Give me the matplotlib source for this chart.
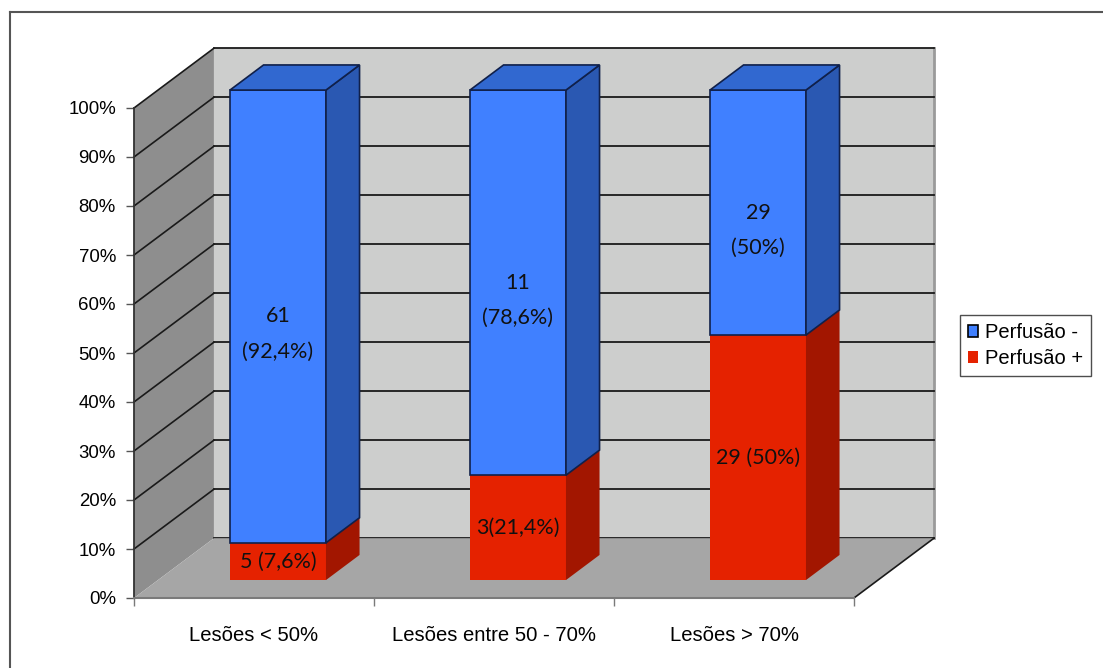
import matplotlib.pyplot as plt
from matplotlib.patches import Polygon, Patch
from matplotlib.lines import Line2D

# Perfusion results per lesion group (stacked to 100%)
categories = ['Lesões < 50%', 'Lesões entre 50 - 70%', 'Lesões > 70%']
pos_count = [5, 3, 29]
pos_pct = [7.6, 21.4, 50.0]
neg_count = [61, 11, 29]
neg_pct = [92.4, 78.6, 50.0]
pos_labels = ['5 (7,6%)', '3(21,4%)', '29 (50%)']
series_names = ['Perfusão -', 'Perfusão +']
yticks = list(range(0, 101, 10))

# pseudo-3D depth vector (data units) and bar layout
DX, DY = 0.333, 12.2
F0, F1 = 0.30, 0.72          # front / back of the bars as fraction of depth
BAR_W = 0.4

blue = dict(front='#4080ff', side='#2a58b2', top='#3168d0')
red = dict(front='#e52200', side='#a21600', top='#c81c00')

fig = plt.figure(figsize=(11.03, 6.68), dpi=100)
ax = fig.add_axes([134 / 1103, 70 / 668, 720 / 1103, 490 / 668])
ax.set_xlim(0, 3)
ax.set_ylim(0, 100)
ax.patch.set_visible(False)

ncat = len(categories)

# back wall
ax.add_patch(Polygon([(DX, DY), (ncat + DX, DY), (ncat + DX, 100 + DY), (DX, 100 + DY)],
                     closed=True, fc='#cdcecd', ec='none', zorder=1, clip_on=False))
ax.plot([ncat + DX, ncat + DX], [DY, 100 + DY], color='#9a9a9a', lw=2, zorder=2, clip_on=False)
# left side wall
ax.add_patch(Polygon([(0, 0), (DX, DY), (DX, 100 + DY), (0, 100)],
                     closed=True, fc='#8e8e8e', ec='none', zorder=1, clip_on=False))
for v in yticks:
    ax.plot([DX, ncat + DX], [v + DY, v + DY], color='#1a1a1a', lw=1.3, zorder=2, clip_on=False)
    if v > 0:
        ax.plot([0, DX], [v, v + DY], color='#1a1a1a', lw=1.2, zorder=2, clip_on=False)
# floor
ax.add_patch(Polygon([(0, 0), (ncat, 0), (ncat + DX, DY), (DX, DY)],
                     closed=True, fc='#a6a6a6', ec='none', zorder=3, clip_on=False))
ax.plot([ncat, ncat + DX], [0, DY], color='#1a1a1a', lw=1.2, zorder=3.5, clip_on=False)


def draw_box(ax, left, bottom, top, colors, edge, z):
    right = left + BAR_W
    lw = 1.2 if edge else 0
    ec = '#10204a' if edge else 'none'
    ax.bar(left + F0 * DX, top - bottom, width=BAR_W, bottom=bottom + F0 * DY, align='edge',
           color=colors['front'], edgecolor=ec, linewidth=lw, zorder=z, clip_on=False)
    side = [(right + F0 * DX, bottom + F0 * DY), (right + F1 * DX, bottom + F1 * DY),
            (right + F1 * DX, top + F1 * DY), (right + F0 * DX, top + F0 * DY)]
    ax.add_patch(Polygon(side, closed=True, fc=colors['side'], ec=ec, lw=lw, zorder=z, clip_on=False))
    lid = [(left + F0 * DX, top + F0 * DY), (right + F0 * DX, top + F0 * DY),
           (right + F1 * DX, top + F1 * DY), (left + F1 * DX, top + F1 * DY)]
    ax.add_patch(Polygon(lid, closed=True, fc=colors['top'], ec=ec, lw=lw, zorder=z, clip_on=False))


label_font = dict(family=['Lato', 'DejaVu Sans'], fontsize=15.5, color='#111111')
for i in range(ncat):
    left = i + 0.5 - BAR_W / 2
    cx = i + 0.5 + F0 * DX
    draw_box(ax, left, 0, pos_pct[i], red, False, 5)
    draw_box(ax, left, pos_pct[i], pos_pct[i] + neg_pct[i], blue, True, 6)
    # labels
    ymid = pos_pct[i] / 2 + F0 * DY
    ax.text(cx, ymid, pos_labels[i], ha='center', va='center', zorder=8, **label_font)
    ymid = pos_pct[i] + neg_pct[i] / 2 + F0 * DY
    ax.text(cx, ymid, str(neg_count[i]), ha='center', va='center', zorder=8, **label_font)
    pct_txt = '({:g}%)'.format(neg_pct[i]).replace('.', ',')
    ax.text(cx, ymid - 7.2, pct_txt, ha='center', va='center', zorder=8, **label_font)

# axes
for s in ['top', 'right']:
    ax.spines[s].set_visible(False)
ax.spines['left'].set_color('#333333')
ax.spines['left'].set_linewidth(1.3)
ax.spines['bottom'].set_color('#7a7a7a')
ax.spines['bottom'].set_linewidth(1.5)
ax.spines['left'].set_zorder(4)
ax.spines['bottom'].set_zorder(4)

ax.set_yticks(yticks)
ax.set_yticklabels([f'{v}%' for v in yticks], family='Liberation Sans', fontsize=13.4)
ax.tick_params(axis='y', length=6, width=1, color='#555555', pad=7)
ax.set_xticks(range(ncat + 1))
ax.set_xticklabels([])
ax.set_xticks([i + 0.5 for i in range(ncat)], minor=True)
ax.set_xticklabels(categories, minor=True, family='Liberation Sans', fontsize=14.6)
ax.tick_params(axis='x', which='minor', length=0, pad=20)
ax.tick_params(axis='x', which='major', length=6, width=1, color='#7a7a7a')

handles = [Patch(fc=blue['front'], ec='black', lw=1.2), Patch(fc=red['front'], ec='none')]
leg = fig.legend(handles, series_names, loc='upper left', bbox_to_anchor=(960 / 1103, 1 - 315 / 668),
                 prop=dict(family='Liberation Sans', size=14.5), frameon=True, fancybox=False,
                 handlelength=0.5, handleheight=0.5, handletextpad=0.35, borderpad=0.4,
                 labelspacing=0.35, borderaxespad=0)
leg.get_frame().set_edgecolor('#222222')
leg.get_frame().set_linewidth(1.0)

# outer chart border
fig.add_artist(Line2D([10 / 1103, 1.01], [1 - 12 / 668, 1 - 12 / 668], transform=fig.transFigure,
                      color='#555555', lw=1.5))
fig.add_artist(Line2D([10 / 1103, 10 / 1103], [-0.01, 1 - 12 / 668], transform=fig.transFigure,
                      color='#555555', lw=1.5))

plt.savefig('out.png', dpi=100)
